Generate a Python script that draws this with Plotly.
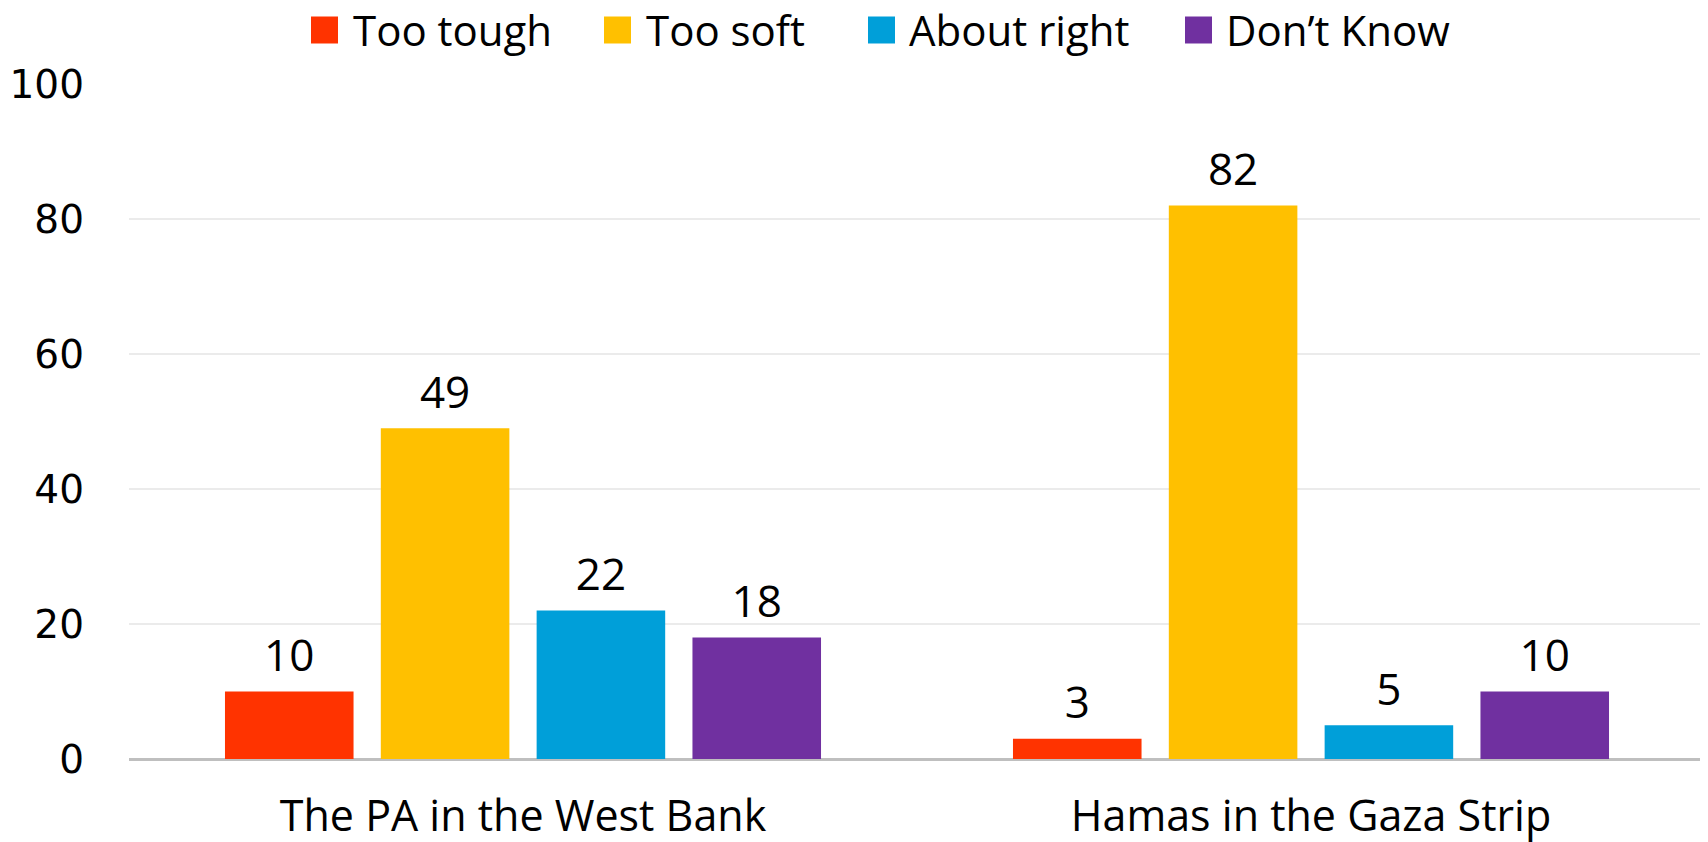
import plotly.graph_objects as go

categories = ["The PA in the West Bank", "Hamas in the Gaza Strip"]
series_names = ["Too tough", "Too soft", "About right", "Don\u2019t Know"]
too_tough = [10, 3]
too_soft = [49, 82]
about_right = [22, 5]
dont_know = [18, 10]
colors = ["#FF3300", "#FFC000", "#009FD9", "#7030A0"]
y_ticks = [0, 20, 40, 60, 80, 100]

values = [too_tough, too_soft, about_right, dont_know]
FONT = "Open Sans, Lato, sans-serif"

# page body has an 8px margin, so the figure is sized to fill the window from there
W, H = 1700, 834
ML, MR, MT, MB = 121, 3, 76, 83
PW, PH = W - ML - MR, H - MT - MB

fig = go.Figure()
for name, vals, col in zip(series_names, values, colors):
    fig.add_trace(go.Bar(
        x=categories, y=vals, name=name,
        marker=dict(color=col, line=dict(width=0)),
        showlegend=False, hoverinfo="x+y+name",
    ))
# value labels, grouped like the bars
for name, vals in zip(series_names, values):
    fig.add_trace(go.Scatter(
        x=categories, y=vals, mode="markers+text", name=name,
        marker=dict(size=14, color="rgba(0,0,0,0)"),
        text=[str(v) for v in vals], textposition="top center",
        textfont=dict(family=FONT, size=44, color="#000000"),
        showlegend=False, hoverinfo="skip", cliponaxis=False,
    ))

# custom legend (large square swatches)
legend_sq_x = [303, 596, 860, 1177]     # swatch left edge, px
legend_txt_x = [343, 636, 899, 1216]    # label left edge, px
sw = 27
legend_y = 22
for name, col, lx, tx in zip(series_names, colors, legend_sq_x, legend_txt_x):
    fig.add_shape(type="rect", xref="paper", yref="paper",
                  x0=(lx - ML) / PW, x1=(lx + sw - ML) / PW,
                  y0=(H - MB - (legend_y + sw / 2)) / PH, y1=(H - MB - (legend_y - sw / 2)) / PH,
                  fillcolor=col, line=dict(width=0))
    fig.add_annotation(xref="paper", yref="paper", x=(tx - ML) / PW,
                       y=(H - MB - legend_y) / PH, text=name, showarrow=False,
                       xanchor="left", yanchor="middle",
                       font=dict(family=FONT, size=42, color="#000000"))

fig.update_layout(
    width=W, height=H,
    paper_bgcolor="white", plot_bgcolor="white",
    margin=dict(l=ML, r=MR, t=MT, b=MB, autoexpand=False),
    barmode="group", bargap=0.209, bargroupgap=0.175,
    scattermode="group", scattergap=0.209,
    font=dict(family=FONT, color="#000000"),
    showlegend=False,
)
fig.update_xaxes(showline=False, ticks="", tickfont=dict(size=43, family=FONT), ticklabelstandoff=28)
fig.update_yaxes(range=[0, 100], tickvals=y_ticks, showgrid=True, gridcolor="#EBEBEB", gridwidth=1.5,
                 zeroline=True, zerolinecolor="#BFBFBF", zerolinewidth=2.5,
                 tickfont=dict(size=39, family="DejaVu Sans, sans-serif"), ticks="", ticklabelstandoff=44)

fig.write_html("out.html")
